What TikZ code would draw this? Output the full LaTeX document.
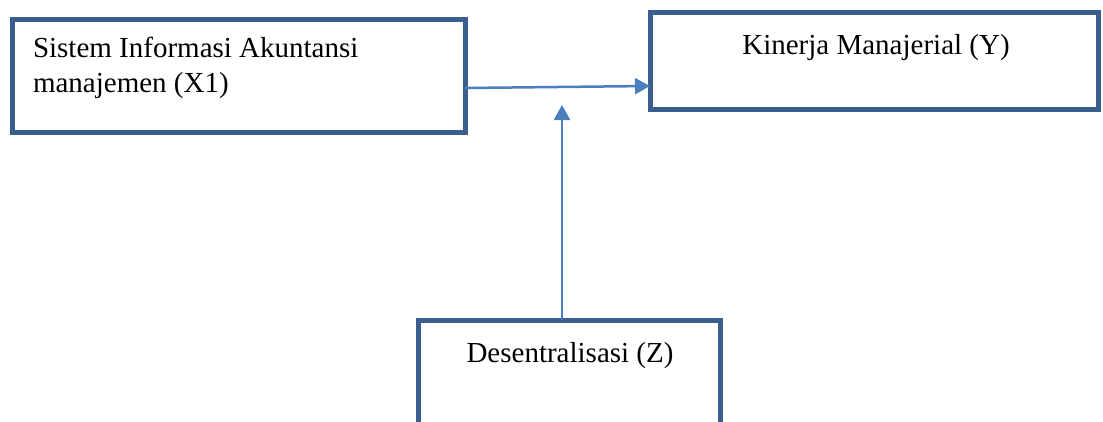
\documentclass[tikz,border=0pt]{standalone}
\usepackage{fontspec}
\setmainfont{Liberation Serif}
\usetikzlibrary{arrows.meta,calc}
\definecolor{boxc}{HTML}{3A5F8E}
\definecolor{arrc}{HTML}{4A7EBF}
\tikzset{
  boxnode/.style={draw=boxc,line width=5pt,fill=white,inner sep=0pt,outer sep=0pt},
  lbl/.style={inner sep=0pt,outer sep=0pt,font=\fontsize{29}{35}\selectfont,anchor=base west,align=left},
  conn/.style={draw=arrc,line width=2.5pt,-{Triangle[length=15pt,width=16pt]}}
}
\begin{document}
\begin{tikzpicture}[x=1pt,y=-1pt]
\useasboundingbox (0,0) rectangle (1103,421);
\clip (0,0) rectangle (1103,421);
\node[boxnode,minimum width=452.5pt,minimum height=113pt] (x1) at (238.75,75.5) {};
\node[boxnode,minimum width=448pt,minimum height=97pt] (y) at (874,60.5) {};
\node[boxnode,minimum width=302pt,minimum height=160pt] (z) at (569,400) {};
\node[lbl] (tx1a) at (33,57) {Sistem Informasi Akuntansi};
\node[lbl] (tx1b) at (33,92) {manajemen (X1)};
\node[lbl,anchor=base] (ty) at (876,54) {Kinerja Manajerial (Y)};
\node[lbl,anchor=base] (tz) at (570,362) {Desentralisasi (Z)};
\coordinate (mid) at (562,105);
\draw[conn] ($(x1.east)+(0,12.5)$) -- ($(y.west)+(0,25.5)$);
\draw[conn] ($(z.north)+(-7,0)$) -- (mid);
\end{tikzpicture}
\end{document}
